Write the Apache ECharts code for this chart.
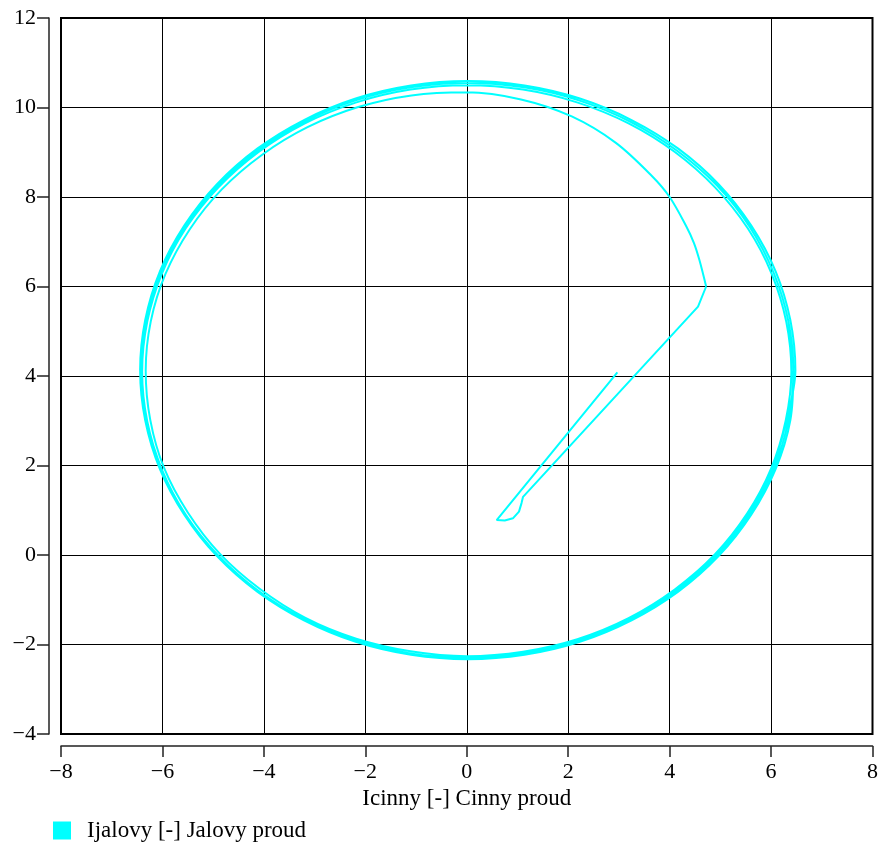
<!DOCTYPE html>
<html>
<head>
<meta charset="utf-8">
<script src="https://cdn.jsdelivr.net/npm/echarts@6/dist/echarts.min.js"></script>
<style>
html,body{margin:0;padding:0;background:#fff;}
#chart{width:881px;height:847px;}
</style>
</head>
<body>
<div id="chart"></div>
<script>
// Axis ticks
var xTicks = [-8, -6, -4, -2, 0, 2, 4, 6, 8];
var yTicks = [-4, -2, 0, 2, 4, 6, 8, 10, 12];

var seriesName = 'Ijalovy [-] Jalovy proud';
var xAxisName = 'Icinny [-] Cinny proud';

// Start-up path (Icinny, Ijalovy)
var approachPath = [
  [2.97, 4.08], [0.59, 0.78], [0.75, 0.77], [0.91, 0.82], [1.03, 0.97],
  [1.08, 1.16], [1.11, 1.30], [4.56, 5.55], [4.72, 6.00]
];

// First spiral loop
var spiralLoop = [
  [4.72, 6.00], [4.59, 6.58], [4.48, 6.97], [4.33, 7.34], [4.00, 8.00], [3.65, 8.47],
  [2.94, 9.21], [2.07, 9.80], [1.07, 10.18], [0.00, 10.34], [-1.09, 10.27],
  [-2.14, 10.01], [-3.14, 9.56], [-4.04, 8.94], [-4.83, 8.17], [-5.46, 7.28],
  [-5.94, 6.28], [-6.23, 5.22], [-6.33, 4.12], [-6.24, 3.02], [-5.97, 1.95],
  [-5.50, 0.95], [-4.87, 0.03], [-4.09, -0.75], [-3.19, -1.40], [-2.18, -1.87],
  [-1.11, -2.15], [0.00, -2.26], [1.11, -2.16], [2.18, -1.88], [3.19, -1.41],
  [4.10, -0.77], [4.89, 0.01], [5.53, 0.93], [6.00, 1.93], [6.29, 3.01]
];

// Steady-state loops
var loopA = [
  [6.40, 4.10], [6.30, 5.21], [6.01, 6.29], [5.54, 7.30], [4.90, 8.21], [4.11, 9.00],
  [3.20, 9.64], [2.19, 10.11], [1.11, 10.40], [0.00, 10.50], [-1.11, 10.40], [-2.19, 10.11],
  [-3.20, 9.64], [-4.11, 9.00], [-4.90, 8.21], [-5.54, 7.30], [-6.01, 6.29], [-6.30, 5.21],
  [-6.40, 4.10], [-6.30, 2.99], [-6.01, 1.91], [-5.54, 0.90], [-4.90, -0.01], [-4.11, -0.80],
  [-3.20, -1.44], [-2.19, -1.91], [-1.11, -2.20], [0.00, -2.30], [1.11, -2.20], [2.19, -1.91],
  [3.20, -1.44], [4.11, -0.80], [4.90, -0.01], [5.54, 0.90], [6.01, 1.91], [6.30, 2.99]
];
var loopB = [
  [6.48, 4.13], [6.38, 5.25], [6.09, 6.34], [5.61, 7.36], [4.97, 8.28], [4.17, 9.08],
  [3.25, 9.72], [2.23, 10.20], [1.14, 10.49], [0.02, 10.59], [-1.10, 10.49], [-2.19, 10.20],
  [-3.21, 9.72], [-4.13, 9.08], [-4.93, 8.28], [-5.57, 7.36], [-6.05, 6.34], [-6.34, 5.25],
  [-6.44, 4.13], [-6.34, 3.01], [-6.05, 1.92], [-5.57, 0.90], [-4.93, -0.02], [-4.13, -0.82],
  [-3.21, -1.46], [-2.19, -1.94], [-1.10, -2.23], [0.02, -2.33], [1.14, -2.23], [2.23, -1.94],
  [3.25, -1.46], [4.17, -0.82], [4.97, -0.02], [5.61, 0.90], [6.09, 1.92], [6.38, 3.01]
];
var loopC = [
  [6.44, 4.12], [6.34, 5.23], [6.05, 6.31], [5.58, 7.33], [4.94, 8.25], [4.14, 9.04],
  [3.23, 9.68], [2.21, 10.16], [1.13, 10.45], [0.01, 10.55], [-1.11, 10.45], [-2.19, 10.16],
  [-3.21, 9.68], [-4.12, 9.04], [-4.92, 8.25], [-5.56, 7.33], [-6.03, 6.31], [-6.32, 5.23],
  [-6.42, 4.12], [-6.32, 3.00], [-6.03, 1.92], [-5.56, 0.90], [-4.92, -0.02], [-4.12, -0.81],
  [-3.21, -1.45], [-2.19, -1.92], [-1.11, -2.22], [0.01, -2.32], [1.13, -2.22], [2.21, -1.92],
  [3.23, -1.45], [4.14, -0.81], [4.94, -0.02], [5.58, 0.90], [6.05, 1.92], [6.34, 3.00],
  [6.44, 4.12], [6.34, 5.23]
];

var orbit = spiralLoop.concat(loopA, loopB, loopC);

var FONT = '"Liberation Serif", "DejaVu Serif", serif';
var CYAN = '#00ffff';
function fmt(v) { return String(v).replace('-', '\u2212'); }

var chart = echarts.init(document.getElementById('chart'), null, {renderer: 'canvas'});
chart.setOption({
  animation: false,
  backgroundColor: '#ffffff',
  grid: {left: 61, right: 8, top: 18, bottom: 113, show: true, borderColor: '#000', borderWidth: 2, backgroundColor: 'transparent'},
  legend: {
    data: [seriesName], left: 53, top: 819, padding: 0,
    icon: 'rect', itemWidth: 18, itemHeight: 18,
    textStyle: {fontFamily: FONT, fontSize: 23, color: '#000', padding: [0, 0, 0, 11]}
  },
  xAxis: {
    type: 'value', min: xTicks[0], max: xTicks[xTicks.length - 1], interval: 2,
    offset: 12,
    name: xAxisName, nameLocation: 'middle', nameGap: 37,
    nameTextStyle: {fontFamily: FONT, fontSize: 23, color: '#000'},
    axisLine: {show: true, onZero: false, lineStyle: {color: '#222', width: 1.5}},
    axisTick: {show: true, inside: false, length: 11, lineStyle: {color: '#222', width: 1.5}},
    axisLabel: {margin: 15, fontFamily: FONT, fontSize: 22, color: '#000', formatter: fmt},
    splitLine: {show: true, lineStyle: {color: '#000', width: 1}}
  },
  yAxis: {
    type: 'value', min: yTicks[0], max: yTicks[yTicks.length - 1], interval: 2,
    offset: 12,
    axisLine: {show: true, onZero: false, lineStyle: {color: '#222', width: 1.5}},
    axisTick: {show: true, inside: false, length: 12, lineStyle: {color: '#222', width: 1.5}},
    axisLabel: {margin: 13, fontFamily: FONT, fontSize: 22, color: '#000', formatter: fmt},
    splitLine: {show: true, lineStyle: {color: '#000', width: 1}}
  },
  series: [
    {
      name: seriesName, type: 'line', data: approachPath, showSymbol: false, symbol: 'none',
      smooth: false, lineStyle: {color: CYAN, width: 2}, itemStyle: {color: CYAN}
    },
    {
      name: seriesName, type: 'line', data: orbit, showSymbol: false, symbol: 'none',
      smooth: 0.33, smoothConstraint: false, lineStyle: {color: CYAN, width: 2}, itemStyle: {color: CYAN}
    }
  ]
});
</script>
</body>
</html>
